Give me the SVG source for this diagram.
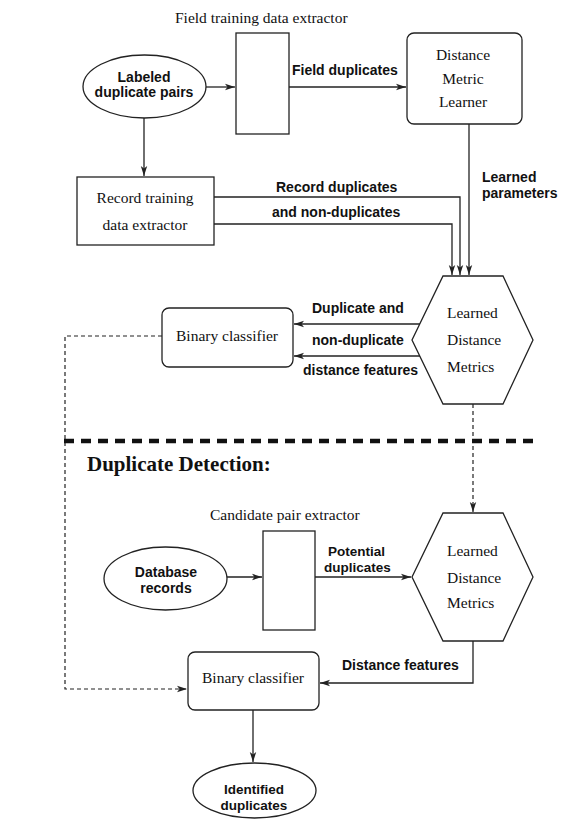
<svg xmlns="http://www.w3.org/2000/svg" width="568" height="820" viewBox="0 0 568 820">
<style>
.shape{fill:#fff;stroke:#222;stroke-width:1.3}
.line{fill:none;stroke:#222;stroke-width:1.3}
.dash{fill:none;stroke:#222;stroke-width:1.2;stroke-dasharray:4 3}
.serif{font-family:"Liberation Serif","Times New Roman",serif;font-size:15.5px;fill:#111}
.sans{font-family:"Liberation Sans",Arial,sans-serif;font-size:14px;font-weight:bold;fill:#111}
.tight{font-size:13.5px}
.mid{text-anchor:middle}
</style>
<defs>
<marker id="ah" viewBox="0 0 10 8" refX="10" refY="4" markerWidth="10" markerHeight="8" markerUnits="userSpaceOnUse" orient="auto">
<path d="M0,0.8 L10,4 L0,7.2 L2.5,4 Z" fill="#222"/>
</marker>
</defs>
<rect width="568" height="820" fill="#fff"/>

<g id="connectors">
<line class="line" x1="206" y1="87" x2="235" y2="87" marker-end="url(#ah)"/>
<line class="line" x1="289" y1="87" x2="406" y2="87" marker-end="url(#ah)"/>
<line class="line" x1="144" y1="118" x2="144" y2="176" marker-end="url(#ah)"/>
<line class="line" x1="469" y1="124" x2="469" y2="275" marker-end="url(#ah)"/>
<polyline class="line" points="214,197 460,197 460,275" marker-end="url(#ah)"/>
<polyline class="line" points="214,224 452,224 452,275" marker-end="url(#ah)"/>
<line class="line" x1="420" y1="324" x2="294" y2="324" marker-end="url(#ah)"/>
<line class="line" x1="420" y1="356" x2="294" y2="356" marker-end="url(#ah)"/>
<polyline class="dash" points="162,336 65,336 65,689 187,689" marker-end="url(#ah)"/>
<line class="dash" x1="473" y1="404" x2="473" y2="512" marker-end="url(#ah)"/>
<line class="line" x1="227" y1="577" x2="262" y2="577" marker-end="url(#ah)"/>
<line class="line" x1="315" y1="577" x2="411" y2="577" marker-end="url(#ah)"/>
<polyline class="line" points="473,641 473,683 320,683" marker-end="url(#ah)"/>
<line class="line" x1="253" y1="710" x2="253" y2="762" marker-end="url(#ah)"/>
</g>

<line x1="64" y1="441" x2="536" y2="441" stroke="#111" stroke-width="4.5" stroke-dasharray="10 7"/>

<g id="labeled-pairs">
<ellipse class="shape" cx="144.5" cy="86.5" rx="61.5" ry="31.5"/>
<text class="sans mid" x="144" y="82">Labeled</text>
<text class="sans mid" x="144" y="97">duplicate pairs</text>
</g>

<g id="field-extractor">
<text class="serif" x="175" y="23">Field training data extractor</text>
<rect class="shape" x="236" y="33" width="53" height="101"/>
</g>

<g id="metric-learner">
<rect class="shape" x="407" y="33" width="115" height="91" rx="7"/>
<text class="serif mid" x="463" y="60">Distance</text>
<text class="serif mid" x="463" y="84">Metric</text>
<text class="serif mid" x="463" y="107">Learner</text>
</g>

<g id="record-extractor">
<rect class="shape" x="77" y="177" width="137" height="68"/>
<text class="serif mid" x="145" y="203">Record training</text>
<text class="serif mid" x="145" y="230">data extractor</text>
</g>

<g id="learned-metrics-1">
<polygon class="shape" points="443,276 503,276 533,340 503,404 443,404 412,340"/>
<text class="serif" x="447" y="318">Learned</text>
<text class="serif" x="447" y="345">Distance</text>
<text class="serif" x="447" y="372">Metrics</text>
</g>

<g id="binary-classifier-1">
<rect class="shape" x="162" y="308" width="131" height="59" rx="7"/>
<text class="serif mid" x="227" y="341">Binary classifier</text>
</g>

<g id="labels">
<text class="sans" x="292" y="75">Field duplicates</text>
<text class="sans" x="276" y="192">Record duplicates</text>
<text class="sans" x="272" y="217">and non-duplicates</text>
<text class="sans" x="482" y="182">Learned</text>
<text class="sans" x="482" y="198">parameters</text>
<text class="sans" x="312" y="313">Duplicate and</text>
<text class="sans" x="312" y="345">non-duplicate</text>
<text class="sans" x="303" y="375">distance features</text>
<text class="sans tight" x="328" y="556">Potential</text>
<text class="sans tight" x="324" y="572">duplicates</text>
<text class="sans" x="342" y="670">Distance features</text>
</g>

<text x="87" y="471" font-family="'Liberation Serif','Times New Roman',serif" font-size="21" font-weight="bold" fill="#111">Duplicate Detection:</text>

<g id="candidate-extractor">
<text class="serif" x="210" y="520">Candidate pair extractor</text>
<rect class="shape" x="263" y="531" width="52" height="99"/>
</g>

<g id="database-records">
<ellipse class="shape" cx="165.5" cy="578.5" rx="61.5" ry="31.5"/>
<text class="sans mid" x="166" y="577">Database</text>
<text class="sans mid" x="166" y="593">records</text>
</g>

<g id="learned-metrics-2">
<polygon class="shape" points="443,513 503,513 533,577 503,641 443,641 412,577"/>
<text class="serif" x="447" y="556">Learned</text>
<text class="serif" x="447" y="583">Distance</text>
<text class="serif" x="447" y="608">Metrics</text>
</g>

<g id="binary-classifier-2">
<rect class="shape" x="188" y="652" width="131" height="58" rx="7"/>
<text class="serif mid" x="253" y="683">Binary classifier</text>
</g>

<g id="identified-duplicates">
<ellipse class="shape" cx="254.5" cy="790.5" rx="61.5" ry="27.5"/>
<text class="sans mid tight" x="254" y="794">Identified</text>
<text class="sans mid tight" x="254" y="810">duplicates</text>
</g>
</svg>
